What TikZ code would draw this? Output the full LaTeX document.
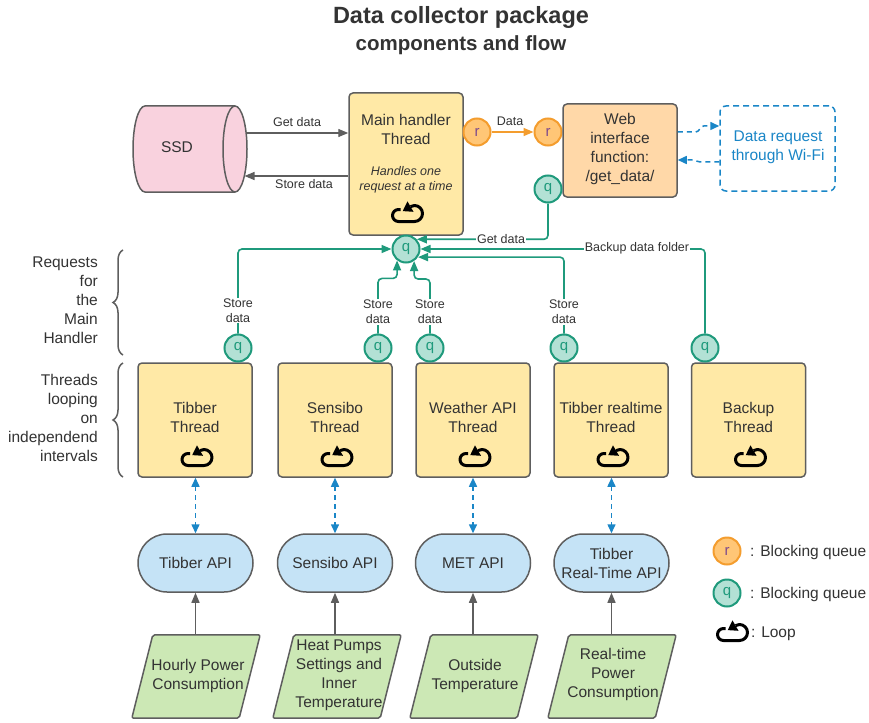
\documentclass[tikz,border=0pt]{standalone}
\usepackage{fontspec}
\setmainfont{Liberation Sans}
\usetikzlibrary{arrows.meta,shapes.geometric,shapes.misc,decorations.pathreplacing,calc}
\definecolor{cgray}{HTML}{5E5E5E}
\definecolor{ctext}{HTML}{333333}
\definecolor{cyellow}{HTML}{FFE9A6}
\definecolor{corange}{HTML}{FFD8A8}
\definecolor{cpink}{HTML}{F9D2DE}
\definecolor{cteal}{HTML}{1F9A7C}
\definecolor{ctealfill}{HTML}{B3E1D5}
\definecolor{crline}{HTML}{F49D2E}
\definecolor{crfill}{HTML}{FFC676}
\definecolor{cpurple}{HTML}{7E4A8C}
\definecolor{cblue}{HTML}{1A86C7}
\definecolor{capi}{HTML}{C5E3F6}
\definecolor{cgreen}{HTML}{CCE8B5}
\begin{document}
\begin{tikzpicture}[x=1pt,y=-1pt,
 lbl/.style={text=ctext, font=\fontsize{15.5}{19}\selectfont, align=center, inner sep=0},
 sml/.style={text=ctext, font=\fontsize{12.5}{15}\selectfont, align=center, inner sep=1pt},
 box/.style={draw=cgray, line width=1.5pt, rounded corners=4pt, inner sep=0, fill=cyellow, minimum width=114pt, minimum height=114pt},
 qn/.style={circle, draw=cteal, fill=ctealfill, line width=2pt, minimum size=27pt, inner sep=0, text=cteal, font=\fontsize{15}{15}\selectfont},
 rn/.style={circle, draw=crline, fill=crfill, line width=2pt, minimum size=27pt, inner sep=0, text=cpurple, font=\fontsize{15}{15}\selectfont},
 api/.style={rounded rectangle, draw=cgray, fill=capi, line width=1.5pt, minimum width=115pt, minimum height=58pt, inner sep=0, text=ctext, font=\fontsize{15.5}{19}\selectfont, align=center},
 parabox/.style={minimum width=128pt, minimum height=83pt, inner sep=0},
 parashape/.style={draw=cgray, fill=cgreen, line width=1.5pt, rounded corners=2pt},
 garrow/.style={draw=cgray, line width=1.3pt, -{Triangle[length=10pt,width=8pt]}},
 tarrow/.style={draw=cteal, line width=1.6pt, rounded corners=4pt, -{Triangle[length=10pt,width=8pt]}},
 oarrow/.style={draw=crline, line width=1.6pt, -{Triangle[length=10pt,width=8pt]}},
 darrow/.style={draw=cblue, line width=1.5pt, dash pattern=on 5pt off 4pt, -{Triangle[length=9pt,width=8pt]}},
 ddarrow/.style={darrow, {Triangle[length=9pt,width=8pt]}-{Triangle[length=9pt,width=8pt]}},
 bracestyle/.style={draw=cgray, line width=1.5pt, decorate, decoration={brace, amplitude=10pt}},
 loopicon/.pic={
   \draw[line width=3pt, black, line join=round] (-6.5,-3.5) -- (-8.5,-3.5) arc[start angle=270,end angle=90,radius=6] -- (7.5,8.5) arc[start angle=90,end angle=-120,radius=8];
   \fill[black] (6.5,-1.2) -- (-4.3,-1.9) -- (0.5,-11.6) -- cycle;
 }
]
\useasboundingbox (0,0) rectangle (869,722);
\fill[white] (0,0) rectangle (869,722);

% title
\node[font=\bfseries\fontsize{23.5}{28}\selectfont, text=ctext] (title) at (461,17) {Data collector package};
\node[font=\bfseries\fontsize{20.5}{24}\selectfont, text=ctext] (subtitle) at (461,45) {components and flow};

% SSD cylinder
\path[draw=cgray, fill=cpink, line width=1.5pt] (145,106) -- (235,106) arc[start angle=270,end angle=450,x radius=12,y radius=43] -- (145,192) arc[start angle=90,end angle=270,x radius=12,y radius=43] -- cycle;
\draw[cgray, line width=1.5pt] (235,106) arc[start angle=270,end angle=90,x radius=12,y radius=43];
\node[lbl] (ssd) at (177,147) {SSD};
\coordinate (ssdget) at (246.2,133);
\coordinate (ssdstore) at (244.5,176);

% main handler
\node[box, minimum height=142pt] (main) at (406,164) {};
\node[lbl] (maintxt) at (406,129.5) {Main handler\\Thread};
\node[sml, font=\itshape\fontsize{12.5}{15}\selectfont] (mainit) at (406,179.5) {Handles one\\request at a time};
\pic at (407,213) {loopicon};

\draw[garrow] (ssdget) -- (main.west |- ssdget);
\draw[garrow] (main.west |- ssdstore) -- (ssdstore);
\node[sml] (lget) at (297,122) {Get data};
\node[sml] (lstore) at (304,184) {Store data};

% r queues
\node[rn] (r1) at (477,132) {r};
\node[rn] (r2) at (548,132) {r};
\draw[oarrow] (r1) -- (r2);
\node[sml] (ldata) at (510,121) {Data};

% web interface
\node[box, fill=corange, minimum width=114pt, minimum height=93pt] (web) at (620,150.5) {};
\node[lbl] (webtxt) at (620,148.5) {Web\\interface\\function:\\/get\_data/};

% wifi
\node[draw=cblue, line width=1.5pt, dash pattern=on 6pt off 4pt, rounded corners=6pt, minimum width=115pt, minimum height=85pt] (wifi) at (777.5,148.5) {};
\node[lbl, text=cblue] (wifitxt) at (778,147) {Data request\\through Wi-Fi};
\draw[darrow] ($(web.east)+(0,-18.5)$) -- ++(18,0) to[out=0,in=180] ++(8,-6) -- ($(wifi.west)+(0,-22.5)$);
\draw[darrow] ($(wifi.west)+(0,13.5)$) -- ++(-19,0) to[out=180,in=0] ++(-8,-2) -- ($(web.east)+(0,9.5)$);

% q queues
\node[qn] (qweb) at (548,189) {q};
\node[qn] (qmain) at (406,249) {q};

% threads
\node[box] (t1) at (195,420) {};
\node[box] (t2) at (335,420) {};
\node[box] (t3) at (473,420) {};
\node[box] (t4) at (611,420) {};
\node[box] (t5) at (748.5,420) {};
\node[lbl] (t1txt) at (195,417.5) {Tibber\\Thread};
\node[lbl] (t2txt) at (335,417.5) {Sensibo\\Thread};
\node[lbl] (t3txt) at (473,417.5) {Weather API\\Thread};
\node[lbl] (t4txt) at (611,417.5) {Tibber realtime\\Thread};
\node[lbl] (t5txt) at (748.5,417.5) {Backup\\Thread};
\pic at (196.5,457) {loopicon};
\pic at (336.5,457) {loopicon};
\pic at (474.5,457) {loopicon};
\pic at (612.5,457) {loopicon};
\pic at (750,457) {loopicon};

\node[qn] (qt1) at (238,348) {q};
\node[qn] (qt2) at (378,348) {q};
\node[qn] (qt3) at (430,348) {q};
\node[qn] (qt4) at (564,348) {q};
\node[qn] (qt5) at (705,348) {q};

% teal connectors
\draw[tarrow] (qweb.south) |- (qmain.42);
\node[sml, fill=white] (lgetq) at (501,239) {Get data};
\draw[tarrow] (qt5.north) |- (qmain.east);
\node[sml, fill=white] (lbackup) at (637,248) {Backup data folder};
\draw[tarrow] (qt4.north) |- (qmain.-34);
\draw[tarrow] (qt1.north) |- (qmain.west);
\draw[tarrow] (qt2.north) |- ($(qmain.-128)+(0,18)$) -- (qmain.-128);
\draw[tarrow] (qt3.north) |- ($(qmain.-56)+(0,18)$) -- (qmain.-56);
\node[sml, fill=white] (ls1) at (238,310.5) {Store\\data};
\node[sml, fill=white] (ls2) at (378,312) {Store\\data};
\node[sml, fill=white] (ls3) at (430,312) {Store\\data};
\node[sml, fill=white] (ls4) at (564,312) {Store\\data};

% braces
\draw[bracestyle] (123,355) -- (123,250);
\draw[bracestyle] (123,477) -- (123,363);
\node[lbl, align=right, anchor=east] (b1) at (98,300) {Requests\\for\\the\\Main\\Handler};
\node[lbl, align=right, anchor=east] (b2) at (98,418) {Threads\\looping\\on\\independend\\intervals};

% APIs
\node[api] (a1) at (195.5,563) {Tibber API};
\node[api] (a2) at (335,563) {Sensibo API};
\node[api] (a3) at (473,563) {MET API};
\node[api] (a4) at (611.5,563) {Tibber\\Real-Time API};
\draw[ddarrow] (t1.south -| a1.north) -- (a1.north);
\draw[ddarrow] (t2.south) -- (a2.north);
\draw[ddarrow] (t3.south) -- (a3.north);
\draw[ddarrow] (t4.south -| a4.north) -- (a4.north);

% data sources
\node[parabox] (p1) at (196,676.5) {};
\node[parabox] (p2) at (337,676.5) {};
\node[parabox] (p3) at (474,676.5) {};
\node[parabox] (p4) at (612,676.5) {};
\foreach \p in {p1,p2,p3,p4}{
  \draw[parashape] (\p.south west) -- ($(\p.north west)+(21,0)$) -- (\p.north east) -- ($(\p.south east)+(-21,0)$) -- cycle;
}
\node[lbl] (p1txt) at (198,676) {Hourly Power\\Consumption};
\node[lbl] (p2txt) at (339,675) {Heat Pumps\\Settings and\\Inner\\Temperature};
\node[lbl] (p3txt) at (475,676) {Outside\\Temperature};
\node[lbl] (p4txt) at (613,674.5) {Real-time\\Power\\Consumption};
\draw[garrow] (a1.south |- p1.north) -- (a1.south);
\draw[garrow] (a2.south |- p2.north) -- (a2.south);
\draw[garrow] (a3.south |- p3.north) -- (a3.south);
\draw[garrow] (a4.south |- p4.north) -- (a4.south);

% legend
\node[rn] (lr) at (727,551) {r};
\node[lbl, anchor=base west] (lrt) at (750,556.5) {: Blocking queue};
\node[qn] (lq) at (727,593) {q};
\node[lbl, anchor=base west] (lqt) at (750,598.5) {: Blocking queue};
\pic at (732,632) {loopicon};
\node[lbl, anchor=base west] (llt) at (751,637.5) {: Loop};
\end{tikzpicture}
\end{document}
